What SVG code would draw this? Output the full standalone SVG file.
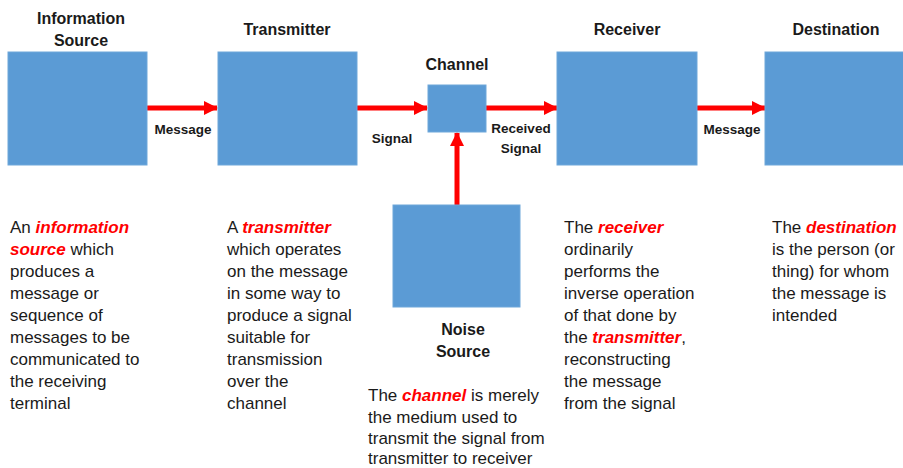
<svg xmlns="http://www.w3.org/2000/svg" width="903" height="468" viewBox="0 0 903 468">
<defs>
<marker id="ah" viewBox="0 0 14 14" refX="13" refY="7" markerWidth="14" markerHeight="14" markerUnits="userSpaceOnUse" orient="auto">
<path d="M0,0 L14,7 L0,14 Z" fill="#ff0000"/>
</marker>
</defs>
<style>
.box{fill:#5b9bd5;stroke:#6fa7da;stroke-width:1}
.title{font-family:"Liberation Sans",Arial,sans-serif;font-weight:bold;font-size:16px;fill:#1a1a1a;text-anchor:middle}
.lbl{font-family:"Liberation Sans",Arial,sans-serif;font-weight:bold;font-size:13.5px;fill:#1a1a1a;text-anchor:middle}
.body{font-family:"Liberation Sans",Arial,sans-serif;font-size:17px;fill:#1a1a1a}
.kw{fill:#ff0000;font-weight:bold;font-style:italic}
.conn{stroke:#ff0000;stroke-width:5;fill:none;marker-end:url(#ah)}
</style>
<rect width="903" height="468" fill="#ffffff"/>
<g id="connectors">
<line class="conn" x1="147" y1="108" x2="217" y2="108"/>
<line class="conn" x1="357" y1="108" x2="427" y2="108"/>
<line class="conn" x1="486" y1="108" x2="557" y2="108"/>
<line class="conn" x1="697" y1="108" x2="765" y2="108"/>
<line class="conn" x1="457" y1="205" x2="457" y2="133"/>
<text class="lbl" x="183" y="134">Message</text>
<text class="lbl" x="392" y="143">Signal</text>
<text class="lbl" x="521" y="133">Received</text>
<text class="lbl" x="521" y="153">Signal</text>
<text class="lbl" x="732" y="134">Message</text>
</g>
<g id="information-source">
<rect class="box" x="8" y="52" width="139" height="113"/>
<text class="title" x="81" y="24">Information</text>
<text class="title" x="81" y="46">Source</text>
<text class="body" x="10" y="233">An <tspan class="kw">information</tspan></text>
<text class="body" x="10" y="255"><tspan class="kw">source</tspan> which</text>
<text class="body" x="10" y="277">produces a</text>
<text class="body" x="10" y="299">message or</text>
<text class="body" x="10" y="321">sequence of</text>
<text class="body" x="10" y="343">messages to be</text>
<text class="body" x="10" y="365">communicated to</text>
<text class="body" x="10" y="387">the receiving</text>
<text class="body" x="10" y="409">terminal</text>
</g>
<g id="transmitter">
<rect class="box" x="218" y="52" width="139" height="113"/>
<text class="title" x="287" y="35">Transmitter</text>
<text class="body" x="227" y="233">A <tspan class="kw">transmitter</tspan></text>
<text class="body" x="227" y="255">which operates</text>
<text class="body" x="227" y="277">on the message</text>
<text class="body" x="227" y="299">in some way to</text>
<text class="body" x="227" y="321">produce a signal</text>
<text class="body" x="227" y="343">suitable for</text>
<text class="body" x="227" y="365">transmission</text>
<text class="body" x="227" y="387">over the</text>
<text class="body" x="227" y="409">channel</text>
</g>
<g id="channel">
<rect class="box" x="428" y="85" width="58" height="47"/>
<text class="title" x="457" y="70">Channel</text>
<text class="body" x="368" y="401">The <tspan class="kw">channel</tspan> is merely</text>
<text class="body" x="368" y="423">the medium used to</text>
<text class="body" x="368" y="444">transmit the signal from</text>
<text class="body" x="368" y="464">transmitter to receiver</text>
</g>
<g id="noise-source">
<rect class="box" x="393" y="205" width="127" height="102"/>
<text class="title" x="463" y="335">Noise</text>
<text class="title" x="463" y="357">Source</text>
</g>
<g id="receiver">
<rect class="box" x="557" y="52" width="140" height="113"/>
<text class="title" x="627" y="35">Receiver</text>
<text class="body" x="564" y="233">The <tspan class="kw">receiver</tspan></text>
<text class="body" x="564" y="255">ordinarily</text>
<text class="body" x="564" y="277">performs the</text>
<text class="body" x="564" y="299">inverse operation</text>
<text class="body" x="564" y="321">of that done by</text>
<text class="body" x="564" y="343">the <tspan class="kw">transmitter</tspan>,</text>
<text class="body" x="564" y="365">reconstructing</text>
<text class="body" x="564" y="387">the message</text>
<text class="body" x="564" y="409">from the signal</text>
</g>
<g id="destination">
<rect class="box" x="765" y="52" width="140" height="113"/>
<text class="title" x="836" y="35">Destination</text>
<text class="body" x="772" y="233">The <tspan class="kw">destination</tspan></text>
<text class="body" x="772" y="255">is the person (or</text>
<text class="body" x="772" y="277">thing) for whom</text>
<text class="body" x="772" y="299">the message is</text>
<text class="body" x="772" y="321">intended</text>
</g>
</svg>
